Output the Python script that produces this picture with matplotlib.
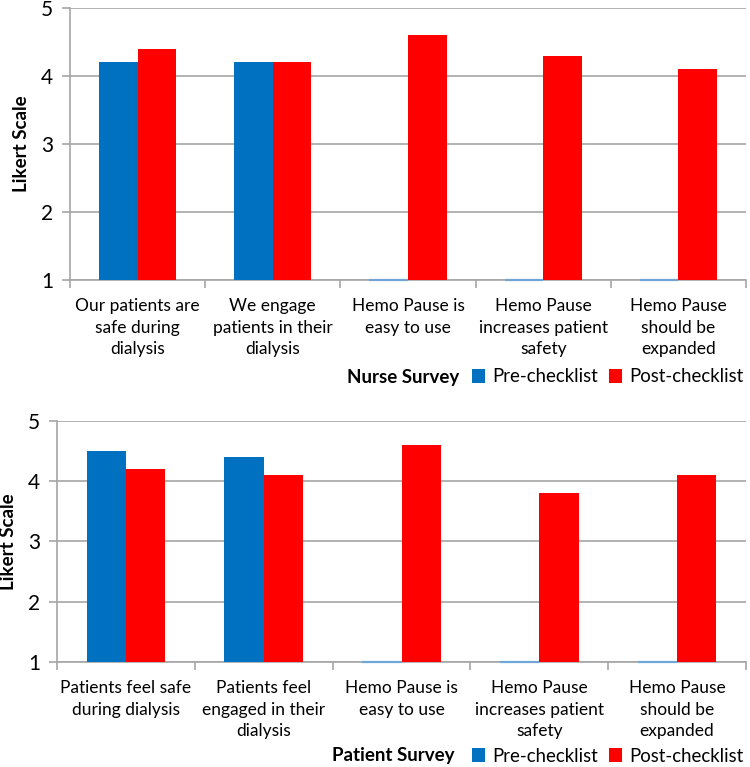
import matplotlib
matplotlib.use("Agg")
import matplotlib.pyplot as plt
from matplotlib.patches import Patch
import numpy as np

plt.rcParams['font.family'] = ['Lato', 'DejaVu Sans']

nurse_labels = ["Our patients are\nsafe during\ndialysis", "We engage\npatients in their\ndialysis",
                "Hemo Pause is\neasy to use", "Hemo Pause\nincreases patient\nsafety", "Hemo Pause\nshould be\nexpanded"]
nurse_pre = [4.2, 4.2, 1.0, 1.0, 1.0]
nurse_post = [4.4, 4.2, 4.6, 4.3, 4.1]

patient_labels = ["Patients feel safe\nduring dialysis", "Patients feel\nengaged in their\ndialysis",
                  "Hemo Pause is\neasy to use", "Hemo Pause\nincreases patient\nsafety", "Hemo Pause\nshould be\nexpanded"]
patient_pre = [4.5, 4.4, 1.0, 1.0, 1.0]
patient_post = [4.2, 4.1, 4.6, 3.8, 4.1]

series_names = ["Pre-checklist", "Post-checklist"]
colors = ["#0070C0", "#FF0000"]
grid_col = "#A6A6A6"

fig = plt.figure(figsize=(7.5, 7.67), dpi=100)


def draw(ax, labels, pre, post, title, title_x, leg_y):
    x = np.arange(len(labels)) + 0.5
    w = 0.285
    pre = np.array(pre)
    post = np.array(post)
    # empty bars (value at the axis minimum) show as a thin line, as in Excel
    edges = ["#6FA8D8" if v <= 1 else colors[0] for v in pre]
    widths = [1.6 if v <= 1 else 0 for v in pre]
    ax.bar(x - w / 2, pre - 1, w, bottom=1, color=colors[0], edgecolor=edges, linewidth=widths,
           zorder=3, clip_on=False)
    ax.bar(x + w / 2, post - 1, w, bottom=1, color=colors[1], zorder=3)
    ax.set_xlim(0, len(labels))
    ax.set_ylim(1, 5)
    ax.set_yticks([1, 2, 3, 4, 5])
    ax.yaxis.grid(True, color=grid_col, linewidth=1.2, zorder=0)
    ax.set_xticks(np.arange(len(labels) + 1))
    ax.set_xticklabels([])
    ax.set_xticks(x, minor=True)
    ax.set_xticklabels(labels, minor=True, fontsize=12.5, linespacing=1.42)
    ax.tick_params(axis='x', which='major', length=6, color=grid_col, width=1.2)
    ax.tick_params(axis='x', which='minor', length=0, pad=13)
    ax.tick_params(axis='y', length=6, color=grid_col, width=1.2, labelsize=15, pad=6)
    for s in ['top', 'right']:
        ax.spines[s].set_visible(False)
    for s in ['left', 'bottom']:
        ax.spines[s].set_color(grid_col)
        ax.spines[s].set_linewidth(1.2)
    ax.set_ylabel("Likert Scale", fontsize=13.5, fontweight='bold', labelpad=8)
    fig.text(title_x, leg_y, title, fontsize=13.5, fontweight='bold', va='center')
    handles = [Patch(facecolor=c, label=n) for c, n in zip(colors, series_names)]
    fig.legend(handles=handles, loc='center left', bbox_to_anchor=(0.629, leg_y), ncol=2, frameon=False,
               fontsize=13.4, handlelength=0.7, handleheight=0.7, handletextpad=0.4, columnspacing=0.6,
               borderpad=0, borderaxespad=0)


ax1 = fig.add_axes([0.0933, 0.6349, 0.9014, 0.3547])
draw(ax1, nurse_labels, nurse_pre, nurse_post, "Nurse Survey", 0.463, 1 - 377 / 767)

ax2 = fig.add_axes([0.076, 0.1369, 0.9187, 0.3146])
draw(ax2, patient_labels, patient_pre, patient_post, "Patient Survey", 0.443, 1 - 756 / 767)

fig.savefig("out.png", dpi=100)
